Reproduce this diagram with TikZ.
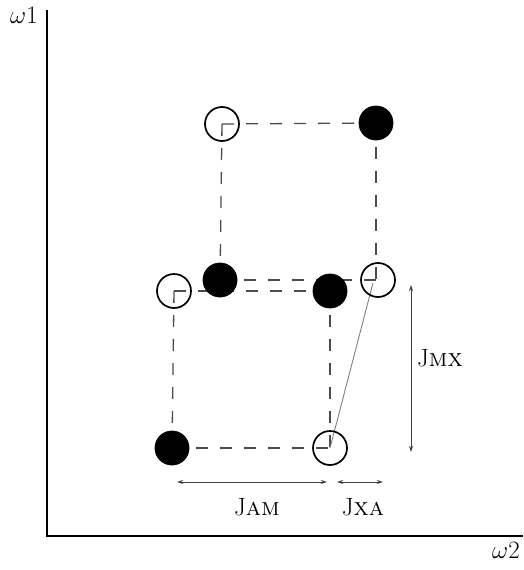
\documentclass[tikz,border=0pt]{standalone}
\usetikzlibrary{arrows.meta}
\newcommand{\biglbl}{\fontsize{25pt}{30pt}\selectfont}
\newcommand{\axlblsize}{\fontsize{25pt}{30pt}\selectfont}
\begin{document}
\begin{tikzpicture}[x=1pt,y=-1pt,
  opendot/.style={circle,draw=black,line width=1.7pt,minimum size=34pt,inner sep=0pt},
  fulldot/.style={circle,fill=black,draw=black,line width=0.8pt,minimum size=34pt,inner sep=0pt},
  dashline/.style={draw=black!70,line width=1.3pt,dash pattern=on 12pt off 12pt},
  axisline/.style={draw=black,line width=2.2pt},
  dimarrow/.style={draw=black!75,line width=0.9pt,{Stealth[length=6pt,width=4pt]}-{Stealth[length=6pt,width=4pt]}},
  lbl/.style={inner sep=0pt},
  axlbl/.style={inner sep=0pt}]
\useasboundingbox (0,0) rectangle (523,570);
% axes
\coordinate (ytop) at (47,10);
\coordinate (orig) at (47,536);
\coordinate (xend) at (523,536);
\draw[axisline] (ytop) -- (orig) -- (xend);
\node[axlbl] (w1) at (24,15) {\axlblsize$\omega$1};
\node[axlbl] (w2) at (506,550) {\axlblsize$\omega$2};
% dot positions
\coordinate (pto) at (222,124);
\coordinate (ptf) at (376,123);
\coordinate (pmf) at (220,280);
\coordinate (pmo) at (378,280);
\coordinate (plo) at (174,291);
\coordinate (plf) at (330,291);
\coordinate (pbf) at (172,448);
\coordinate (pbo) at (330,448);
% dashed lines
\draw[dashline] (pto) -- (ptf);
\draw[dashline] (pto) -- (pmf);
\draw[dashline] (ptf) -- (376,280);
\draw[dashline] (pmf) -- (pmo);
\draw[dashline] (plo) -- (plf);
\draw[dashline] (plo) -- (pbf);
\draw[dashline] (plf) -- (pbo);
\draw[dashline] (pbf) -- (pbo);
% gray line
\coordinate (gtop) at (373,283);
\draw[black!50,line width=0.9pt] (pbo) -- (gtop);
% dots
\node[opendot] (to) at (pto) {};
\node[fulldot] (tf) at (ptf) {};
\node[fulldot] (mf) at (pmf) {};
\node[opendot] (mo) at (pmo) {};
\node[opendot] (lo) at (plo) {};
\node[fulldot] (lf) at (plf) {};
\node[fulldot] (bf) at (pbf) {};
\node[opendot] (bo) at (pbo) {};
% dimension arrows
\coordinate (mxa) at (411,285);
\coordinate (mxb) at (411,452);
\draw[dimarrow] (mxa) -- (mxb);
\node[lbl,anchor=west] (jmx) at (417,358) {\biglbl J\textsc{mx}};
\coordinate (ama) at (177,482);
\coordinate (amb) at (327,482);
\draw[dimarrow] (ama) -- (amb);
\node[lbl] (jam) at (257,507) {\biglbl J\textsc{am}};
\coordinate (xaa) at (337,482);
\coordinate (xab) at (383,482);
\draw[dimarrow] (xaa) -- (xab);
\node[lbl] (jxa) at (363,507) {\biglbl J\textsc{xa}};
\end{tikzpicture}
\end{document}
